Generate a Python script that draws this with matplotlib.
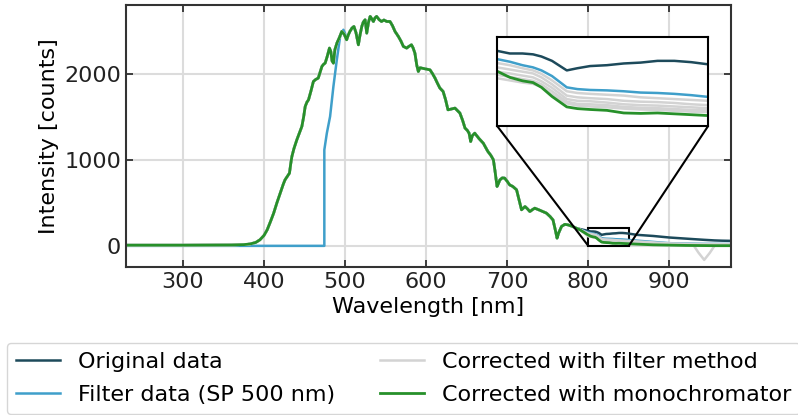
import numpy as np
import matplotlib
matplotlib.use("Agg")
import matplotlib.pyplot as plt
from mpl_toolkits.axes_grid1.inset_locator import mark_inset

# ---- spectrum shared by all series up to ~785 nm ----
wl_common = [230, 300, 360, 375, 383, 390, 395, 400, 404, 408, 412, 416, 420, 424, 426, 429,
             431.5, 433, 434.5, 437, 440.6, 444, 446.8, 449, 450.9, 453, 455, 458, 461, 464,
             467, 469, 471.5, 473.5, 475.5, 478, 480.8, 482.5, 484, 485.7, 487.5, 490, 493,
             496, 499, 502, 504, 506, 508.5, 511, 513.5, 516.5, 518.5, 520.7, 522.5, 524.8,
             526.8, 529, 531, 533, 535, 537, 539, 542, 545, 548, 551.5, 555.5, 558.5, 561.7,
             565.8, 569, 572, 576, 579, 582, 584, 586.2, 588.5, 590.4, 592.5, 594.5, 600,
             604.8, 608, 611, 614, 617, 621, 624, 627, 631, 635.6, 641.7, 645, 648, 651, 653,
             655, 657, 660, 665, 670.5, 676, 680, 683, 685, 687.5, 689, 691, 694, 697, 700,
             703, 707, 711.6, 714, 717.7, 720, 722, 725, 728, 731, 734, 740, 748.5, 753, 756.5,
             759, 761.5, 763.5, 767, 771, 775, 780, 785]
intensity_common = [8, 8, 10, 14, 22, 40, 70, 120, 186, 280, 380, 500, 612, 720, 767, 810,
                    845, 950, 1039, 1130, 1233, 1320, 1388, 1500, 1620, 1670, 1698, 1800, 1911, 1935,
                    1950, 2010, 2085, 2110, 2124, 2200, 2299, 2260, 2150, 2124, 2280, 2357, 2420,
                    2492, 2460, 2395, 2450, 2492, 2530, 2550, 2480, 2337, 2450, 2550, 2600, 2628,
                    2473, 2600, 2667, 2640, 2608, 2650, 2667, 2630, 2608, 2625, 2608, 2608, 2560, 2492,
                    2434, 2380, 2318, 2299, 2320, 2337, 2300, 2240, 2100, 2027, 2070, 2066, 2055,
                    2046, 2000, 1950, 1890, 1834, 1794, 1700, 1581, 1590, 1601, 1543, 1460, 1369, 1340, 1310,
                    1213, 1280, 1310, 1250, 1194, 1100, 1050, 1000, 870, 690, 720, 767, 790, 787, 750,
                    709, 690, 651, 560, 419, 440, 457, 430, 399, 420, 438, 415, 380, 340, 302,
                    200, 90, 150, 225, 250, 244, 228, 206]

# ---- short-pass filter data: blocked below the edge, rising edge ----
wl_filter_low = [230, 474.5]
filter_low = [0, 0]
wl_filter_edge = [474.5, 477.6, 481.6, 485.7, 489.9, 494, 498, 500]
filter_edge = [1116, 1310, 1504, 1853, 2163, 2434, 2512, 2470]

# ---- near-infrared tail where the series separate ----
wl_tail = [790, 800, 803, 806, 808.5, 810.5, 813, 816.5, 819, 822, 826, 830, 834, 838, 842,
           846, 850, 860, 880, 900, 920, 930, 936, 943, 950, 956, 965, 976]
original_tail = [195, 173, 167, 167, 165, 160, 150, 128, 133, 138, 140, 144, 146, 150, 150,
                 147, 142, 128, 115, 97, 85, 78, 74, 70, 66, 63, 60, 58]
filter_tail = [190, 154, 148, 140, 135, 128, 115, 89, 85, 83, 82, 80, 77, 76, 74,
               71, 67, 60, 45, 31, 27, 25, 24, 23, 23, 23, 23, 22]
mono_tail = [185, 126, 112, 104, 100, 89, 68, 44, 40, 38, 36, 30, 29, 30, 28,
             26, 24, 20, 12, 8, 5, 4, 3, 3, 3, 2, 2, 2]
filter_method_tails = [
    [188, 145, 140, 133, 128, 120, 105, 80, 76, 74, 72, 70, 66, 64, 62,
     60, 58, 52, 40, 28, 24, 22, 21, 20, 20, 20, 19, 19],
    [187, 135, 130, 125, 121, 112, 96, 70, 66, 64, 62, 58, 56, 55, 53,
     50, 48, 42, 32, 22, 19, 18, 17, 17, 17, 16, 16, 16],
    [186, 125, 121, 116, 112, 103, 88, 62, 58, 57, 54, 50, 48, 47, 45,
     43, 41, 36, 27, 18, 15, 14, 14, 13, 13, 13, 13, 13],
    [186, 118, 113, 108, 104, 96, 80, 56, 51, 50, 48, 44, 42, 41, 39,
     37, 36, 30, 22, 15, 12, 11, 11, 11, 10, 10, 10, 10],
    [185, 110, 105, 100, 97, 90, 73, 52, 47, 45, 43, 40, 38, 37, 35,
     33, 32, 27, 18, 12, 10, 5, -80, -163, -80, 5, 8, 8],
]

labels = ["Original data", "Filter data (SP 500 nm)",
          "Corrected with filter method", "Corrected with monochromator"]
colors = ["#1d4a5b", "#3f9fca", "#d3d3d3", "#27902a"]

wl_c = np.array(wl_common)
I_c = np.array(intensity_common)


def with_tail(tail):
    return (np.concatenate([wl_c, wl_tail]), np.concatenate([I_c, tail]))


orig_x, orig_y = with_tail(original_tail)
mask = wl_c > 500
filt_x = np.concatenate([wl_filter_low, wl_filter_edge, wl_c[mask], wl_tail])
filt_y = np.concatenate([filter_low, filter_edge, I_c[mask], filter_tail])
mono_x, mono_y = with_tail(mono_tail)
fm = [with_tail(t) for t in filter_method_tails]

plt.rcParams["font.size"] = 16
fig = plt.figure(figsize=(7.98, 4.15), dpi=100)
ax = fig.add_axes([0.158, 0.357, 0.758, 0.631])

lw = 1.8


def draw(a, legend=True):
    a.plot(orig_x, orig_y, color=colors[0], lw=lw, label=labels[0] if legend else None)
    a.plot(filt_x, filt_y, color=colors[1], lw=lw, label=labels[1] if legend else None)
    for i, (x, y) in enumerate(fm):
        a.plot(x, y, color=colors[2], lw=lw,
               label=labels[2] if (legend and i == 0) else None)
    a.plot(mono_x, mono_y, color=colors[3], lw=lw + 0.2, label=labels[3] if legend else None)


draw(ax)
ax.set_xlim(230, 976)
ax.set_ylim(-244, 2800)
ax.set_xticks([300, 400, 500, 600, 700, 800, 900])
ax.set_yticks([0, 1000, 2000])
ax.grid(True, color="#dcdcdc", lw=1.5)
ax.set_axisbelow(True)
ax.tick_params(direction="in", top=True, right=True, length=5, width=1.2, colors="#222222")
for s in ax.spines.values():
    s.set_color("#333333")
    s.set_linewidth(1.5)
ax.set_xlabel("Wavelength [nm]")
ax.set_ylabel("Intensity [counts]")

fig.legend(loc="upper left", bbox_to_anchor=(7 / 798, 1 - 343 / 415), ncol=2,
           frameon=True, fontsize=16, handlelength=2.0, borderaxespad=0,
           labelspacing=0.6)

axins = fig.add_axes([0.623, 0.6964, 0.2644, 0.2145])
draw(axins, legend=False)
axins.set_xlim(800, 850)
axins.set_ylim(0, 205)
axins.set_xticks([])
axins.set_yticks([])
for s in axins.spines.values():
    s.set_color("black")
    s.set_linewidth(1.5)

mark_inset(ax, axins, loc1=3, loc2=4, fc="none", ec="black", lw=1.5)

fig.savefig("out.png", dpi=100)
